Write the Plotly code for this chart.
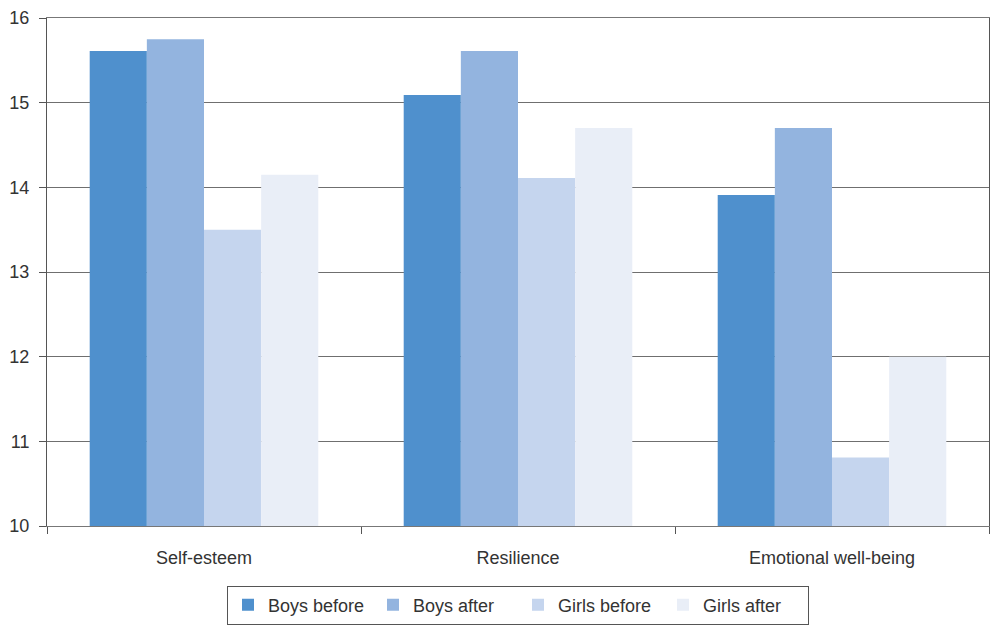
import plotly.graph_objects as go

categories = ["Self-esteem", "Resilience", "Emotional well-being"]
series_names = ["Boys before", "Boys after", "Girls before", "Girls after"]
boys_before = [15.61, 15.09, 13.91]
boys_after = [15.75, 15.61, 14.70]
girls_before = [13.50, 14.11, 10.81]
girls_after = [14.15, 14.70, 12.00]
colors = ["#4F90CD", "#93B4DF", "#C5D5EE", "#E9EEF7"]

fig = go.Figure()
for name, vals, col in zip(series_names, [boys_before, boys_after, girls_before, girls_after], colors):
    fig.add_trace(go.Bar(x=categories, y=vals, name=name, marker=dict(color=col, line=dict(width=0))))

fig.update_layout(
    width=992, height=628,
    margin=dict(l=47, r=3, t=18, b=102),
    paper_bgcolor="white", plot_bgcolor="white",
    barmode="group", bargap=0.272, bargroupgap=0,
    font=dict(family="Liberation Sans, Arial, sans-serif", size=18, color="#333333"),
    showlegend=True,
    legend=dict(orientation="h", x=0.5, xanchor="center", y=-0.194, yanchor="bottom",
                bordercolor="#555555", borderwidth=1, font=dict(size=18, color="#333333"),
                entrywidth=100, traceorder="normal"),
    xaxis=dict(showline=True, linecolor="#777777", linewidth=1, mirror=True,
               ticks="outside", tickson="boundaries", ticklen=7, tickcolor="#555555",
               showgrid=False, ticklabelstandoff=15, tickfont=dict(size=18, color="#333333")),
    yaxis=dict(range=[10, 16], dtick=1, showline=True, linecolor="#555555", linewidth=1, mirror=True,
               ticks="outside", ticklen=7, tickcolor="#555555",
               showgrid=True, gridcolor="#6f6f6f", gridwidth=1, ticklabelstandoff=6,
               tickfont=dict(size=18, color="#333333")),
)
fig.write_html("out.html")
